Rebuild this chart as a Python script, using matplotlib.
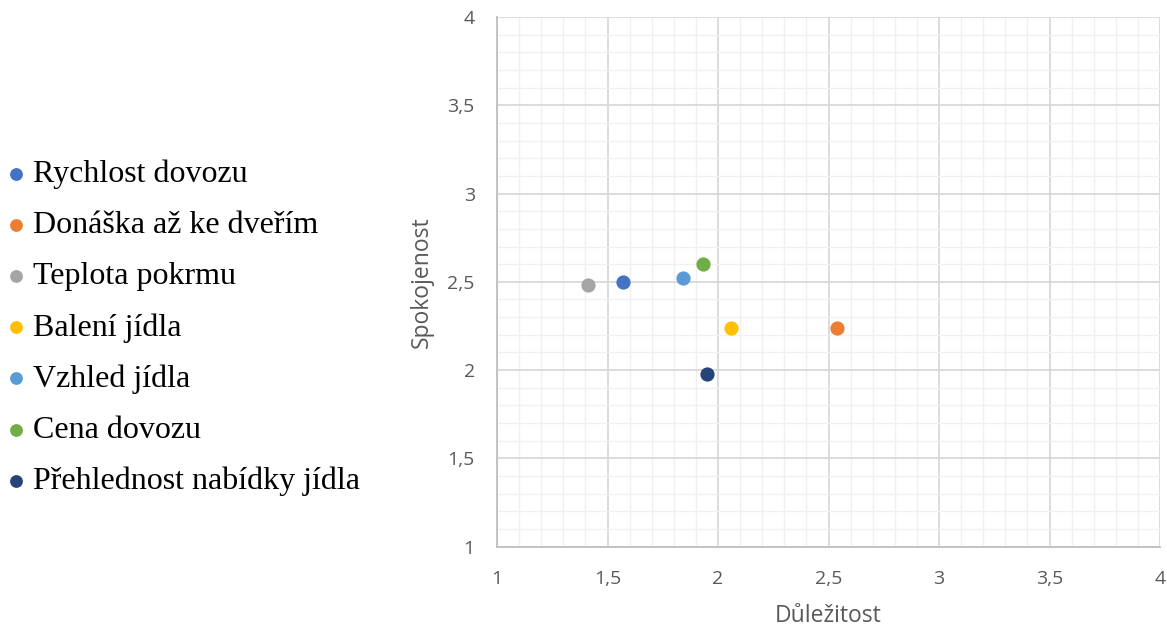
import matplotlib
matplotlib.use("Agg")
import matplotlib.pyplot as plt
from matplotlib.ticker import MultipleLocator, FuncFormatter

# Survey factors: importance (x) vs. satisfaction (y)
factors = [
    "Rychlost dovozu",
    "Donáška až ke dveřím",
    "Teplota pokrmu",
    "Balení jídla",
    "Vzhled jídla",
    "Cena dovozu",
    "Přehlednost nabídky jídla",
]
dulezitost = [1.57, 2.54, 1.41, 2.06, 1.84, 1.93, 1.95]
spokojenost = [2.50, 2.24, 2.48, 2.24, 2.52, 2.60, 1.98]
colors = ["#4472C4", "#ED7D31", "#A5A5A5", "#FFC000", "#5B9BD5", "#70AD47", "#264478"]

fig = plt.figure(figsize=(11.67, 6.27), dpi=100)
ax = fig.add_axes([0.4259, 0.128, 0.5681, 0.845])

handles = []
for name, xv, yv, c in zip(factors, dulezitost, spokojenost, colors):
    h = ax.scatter([xv], [yv], s=105, color=c, label=name, zorder=3, linewidths=0)
    handles.append(h)

ax.set_xlim(1, 4)
ax.set_ylim(1, 4)
ax.xaxis.set_major_locator(MultipleLocator(0.5))
ax.yaxis.set_major_locator(MultipleLocator(0.5))
ax.xaxis.set_minor_locator(MultipleLocator(0.1))
ax.yaxis.set_minor_locator(MultipleLocator(0.1))

fmt = FuncFormatter(lambda v, p: (f"{v:g}").replace(".", ","))
ax.xaxis.set_major_formatter(fmt)
ax.yaxis.set_major_formatter(fmt)

ax.grid(which="major", color="#D9D9D9", linewidth=1.3, zorder=1)
ax.grid(which="minor", color="#F0F0F0", linewidth=1.0, zorder=0)
ax.set_axisbelow(True)

for side in ("top", "right"):
    ax.spines[side].set_visible(False)
for side in ("left", "bottom"):
    ax.spines[side].set_color("#BFBFBF")
    ax.spines[side].set_linewidth(1.3)

ax.tick_params(which="both", length=0)
ax.tick_params(axis="both", labelsize=14, labelcolor="#595959")
ax.tick_params(axis="y", pad=16)
ax.tick_params(axis="x", pad=17)
for lbl in ax.get_xticklabels() + ax.get_yticklabels():
    lbl.set_family("Open Sans")

ax.set_xlabel("Důležitost", fontsize=16.5, color="#595959", family="Open Sans", labelpad=11)
ax.set_ylabel("Spokojenost", fontsize=16.5, color="#595959", family="Open Sans", labelpad=10)

leg = fig.legend(
    handles=handles,
    loc="center left",
    bbox_to_anchor=(-0.027, 0.477),
    frameon=False,
    prop={"family": "Liberation Serif", "size": 23},
    markerscale=0.9,
    handletextpad=-0.08,
    labelspacing=0.68,
    handlelength=1.2,
)

fig.savefig("out.png", dpi=100)
